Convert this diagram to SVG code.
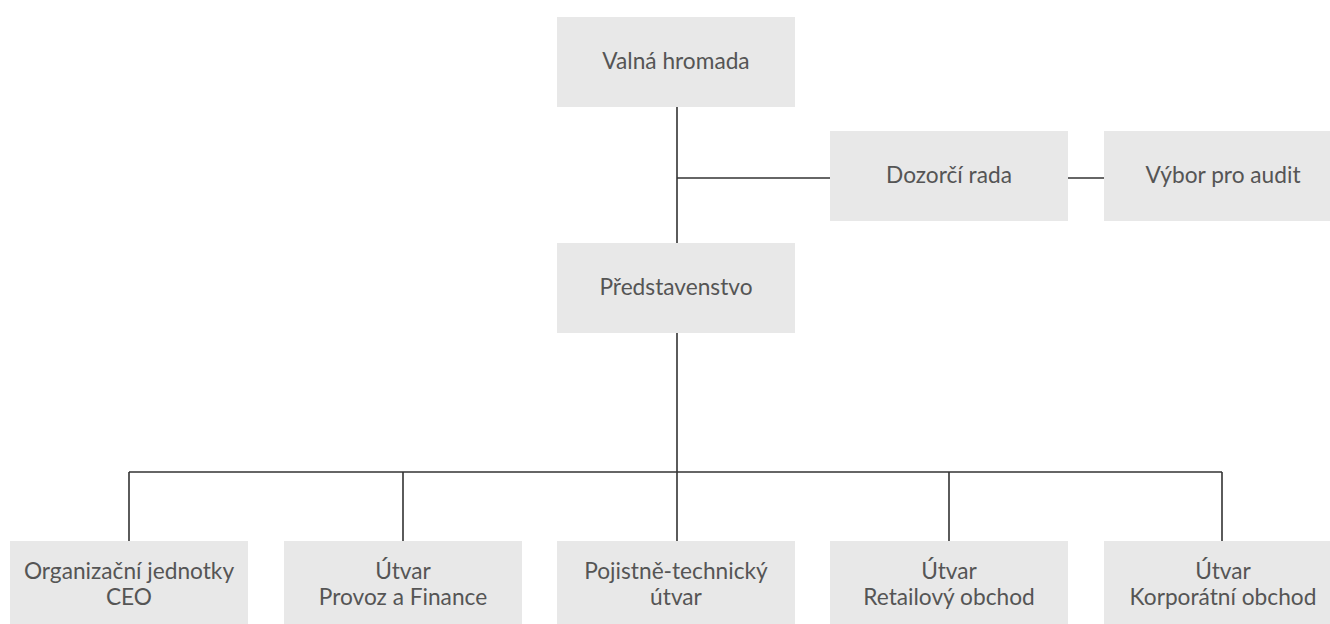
<svg xmlns="http://www.w3.org/2000/svg" width="1330" height="624" viewBox="0 0 1330 624">
<style>
.box{fill:#e8e8e8}
.t{font-family:Lato,"Noto Sans",sans-serif;font-size:22.7px;fill:#555;text-anchor:middle}
.c{stroke:#333;stroke-width:1.6;fill:none}
</style>
<rect width="1330" height="624" fill="#fff"/>
<g id="connectors" class="c">
<line x1="677" y1="107" x2="677" y2="243"/>
<line x1="677" y1="178" x2="830" y2="178"/>
<line x1="1068" y1="178" x2="1104" y2="178"/>
<line x1="677" y1="333" x2="677" y2="541"/>
<line x1="129" y1="472" x2="1222" y2="472"/>
<line x1="129" y1="472" x2="129" y2="541"/>
<line x1="403" y1="472" x2="403" y2="541"/>
<line x1="949" y1="472" x2="949" y2="541"/>
<line x1="1222" y1="472" x2="1222" y2="541"/>
</g>
<g id="valna"><rect class="box" x="557" y="17" width="238" height="90"/><text class="t" x="676" y="69">Valná hromada</text></g>
<g id="dozorci"><rect class="box" x="830" y="131" width="238" height="90"/><text class="t" x="949" y="183">Dozorčí rada</text></g>
<g id="vybor"><rect class="box" x="1104" y="131" width="238" height="90"/><text class="t" x="1223" y="183">Výbor pro audit</text></g>
<g id="predstavenstvo"><rect class="box" x="557" y="243" width="238" height="90"/><text class="t" x="676" y="295">Představenstvo</text></g>
<g id="ceo"><rect class="box" x="10" y="541" width="238" height="90"/><text class="t" x="129" y="579">Organizační jednotky</text><text class="t" x="129" y="605">CEO</text></g>
<g id="provoz"><rect class="box" x="284" y="541" width="238" height="90"/><text class="t" x="403" y="579">Útvar</text><text class="t" x="403" y="605">Provoz a Finance</text></g>
<g id="pojistne"><rect class="box" x="557" y="541" width="238" height="90"/><text class="t" x="676" y="579">Pojistně-technický</text><text class="t" x="676" y="605">útvar</text></g>
<g id="retail"><rect class="box" x="830" y="541" width="238" height="90"/><text class="t" x="949" y="579">Útvar</text><text class="t" x="949" y="605">Retailový obchod</text></g>
<g id="korporat"><rect class="box" x="1104" y="541" width="238" height="90"/><text class="t" x="1223" y="579">Útvar</text><text class="t" x="1223" y="605">Korporátní obchod</text></g>
</svg>
